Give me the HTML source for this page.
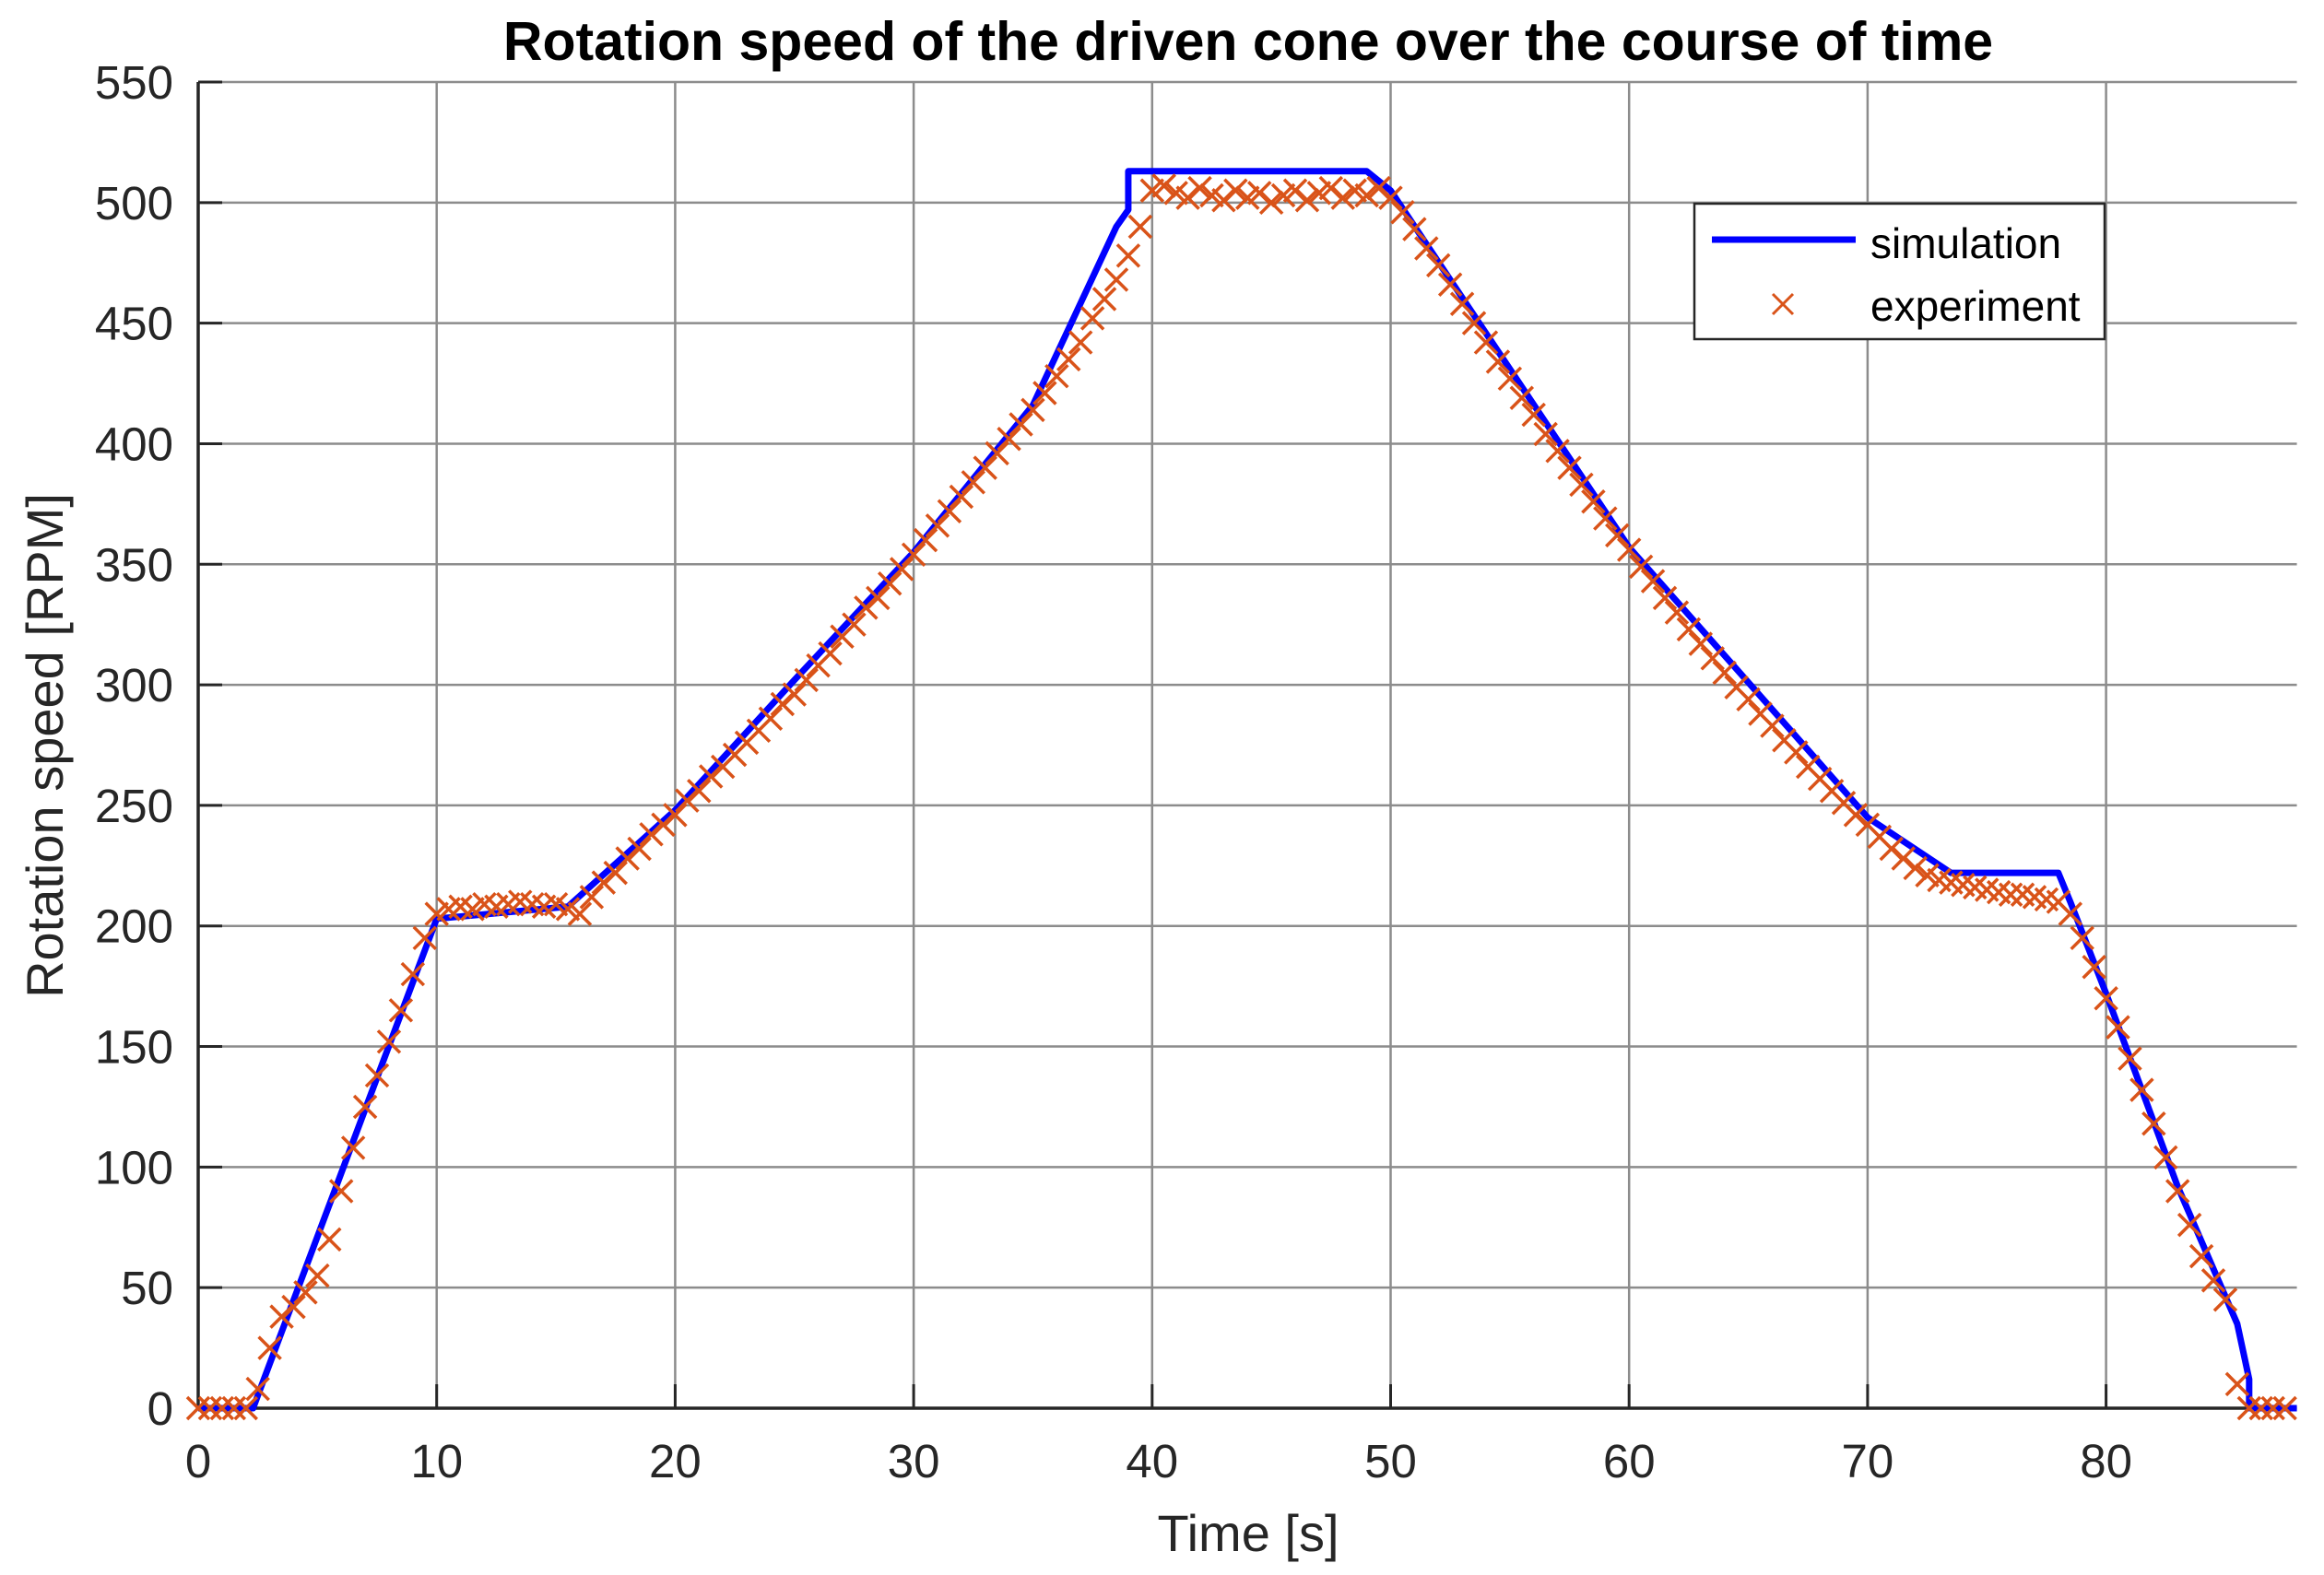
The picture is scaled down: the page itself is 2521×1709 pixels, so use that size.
<!DOCTYPE html>
<html><head><meta charset="utf-8"><style>
html,body{margin:0;padding:0;background:#fff}
svg{display:block;font-family:"Liberation Sans",Arial,sans-serif}
</style></head><body>
<svg id="chart" width="2521" height="1709" viewBox="0 0 2521 1709">
<rect width="2521" height="1709" fill="#fff"/>
<g id="grid"></g>
<g id="ticks"></g>
<g id="series"></g>
<text x="1354" y="65" text-anchor="middle" font-size="59" font-weight="bold" fill="#000">Rotation speed of the driven cone over the course of time</text>
<text x="1354" y="1683" text-anchor="middle" font-size="56" fill="#262626">Time [s]</text>
<text transform="translate(68,809) rotate(-90)" text-anchor="middle" font-size="56" fill="#262626">Rotation speed [RPM]</text>
<g>
<rect x="1838" y="221" width="445" height="147" fill="#fff" stroke="#262626" stroke-width="2.5"/>
<line x1="1857" y1="260" x2="2013" y2="260" stroke="#0000ff" stroke-width="7"/>
<text x="2029" y="280" font-size="46" fill="#000">simulation</text>
<path d="M1923 319 L1945 341 M1945 319 L1923 341" stroke="#D95319" stroke-width="3"/>
<text x="2029" y="348" font-size="46" fill="#000">experiment</text>
</g>
</svg>
<script>
const xTicks=[0,10,20,30,40,50,60,70,80];
const yTicks=[0,50,100,150,200,250,300,350,400,450,500,550];
const simT=[0,2.3,10,15.5,20,25,30,35,38.5,39,39,49,50,60,70,73.5,78,78.5,80,83,85.5,86,86,88];
const simV=[0,0,203,208,248,302,355,416,490,497,513,513,505,357,245,222,222,210,172,92,35,12,0,0];
const expT=[0,0.5,1,1.5,2,2.5,3,3.5,4,4.5,5,5.5,6,6.5,7,7.5,8,8.5,9,9.5,10,10.5,11,11.5,12,12.5,13,13.5,14,14.5,15,15.5,16,16.5,17,17.5,18,18.5,19,19.5,20,20.5,21,21.5,22,22.5,23,23.5,24,24.5,25,25.5,26,26.5,27,27.5,28,28.5,29,29.5,30,30.5,31,31.5,32,32.5,33,33.5,34,34.5,35,35.5,36,36.5,37,37.5,38,38.5,39,39.5,40,40.5,41,41.5,42,42.5,43,43.5,44,44.5,45,45.5,46,46.5,47,47.5,48,48.5,49,49.5,50,50.5,51,51.5,52,52.5,53,53.5,54,54.5,55,55.5,56,56.5,57,57.5,58,58.5,59,59.5,60,60.5,61,61.5,62,62.5,63,63.5,64,64.5,65,65.5,66,66.5,67,67.5,68,68.5,69,69.5,70,70.5,71,71.5,72,72.5,73,73.5,74,74.5,75,75.5,76,76.5,77,77.5,78,78.5,79,79.5,80,80.5,81,81.5,82,82.5,83,83.5,84,84.5,85,85.5,86,86.5,87,87.5];
const expV=[0,0,0,0,0,8,25,38,42,48,55,70,90,108,125,138,152,165,180,195,205,207,208,207,209,208,209,210,209,208,209,207,205,212,218,222,228,232,238,242,246,252,256,262,266,271,276,281,286,292,296,302,308,313,320,325,332,336,342,348,354,360,366,372,378,384,390,396,402,408,414,421,428,435,442,452,460,468,478,490,505,507,504,502,506,503,501,505,502,504,500,503,505,501,504,506,502,505,503,506,502,496,489,481,474,466,458,450,442,434,427,419,412,404,397,390,383,376,369,362,356,349,343,336,330,323,317,311,305,299,294,288,283,277,272,266,261,256,251,246,242,237,232,228,224,221,219,218,217,216,215,214,213,213,212,211,210,205,195,183,170,158,145,132,118,104,90,76,63,53,45,10,0,0,0,0];
const X0=215,XS=25.87,XMAX=88,Y0=1528,YS=(1528-89)/550;
const sx=t=>X0+t*XS, sy=v=>Y0-v*YS;
const NS='http://www.w3.org/2000/svg';
function mk(tag,attrs,parent){const e=document.createElementNS(NS,tag);for(const k in attrs)e.setAttribute(k,attrs[k]);parent.appendChild(e);return e;}
const grid=document.getElementById('grid'),ticks=document.getElementById('ticks'),series=document.getElementById('series');
const xr=sx(XMAX);
xTicks.forEach(t=>{
 const l=mk('line',{x1:sx(t),x2:sx(t),y1:sy(550),y2:Y0,stroke:'#8c8c8c','stroke-width':2.5},grid);
 
 
 const tk=mk('line',{x1:sx(t),x2:sx(t),y1:Y0,y2:Y0-26,stroke:'#262626','stroke-width':3},ticks);
 
 
 const tx=mk('text',{x:sx(t),y:1603,'text-anchor':'middle','font-size':51,fill:'#262626'},ticks);
 tx.textContent=t;
 
 
});
yTicks.forEach(v=>{
 const l=mk('line',{x1:X0,x2:xr,y1:sy(v),y2:sy(v),stroke:'#8c8c8c','stroke-width':2.5},grid);
 
 
 const tk=mk('line',{x1:X0,x2:X0+26,y1:sy(v),y2:sy(v),stroke:'#262626','stroke-width':3},ticks);
 
 
 const tx=mk('text',{x:188,y:sy(v)+18,'text-anchor':'end','font-size':51,fill:'#262626'},ticks);
 tx.textContent=v;
 
 
});
const ax=mk('path',{d:`M${X0} ${sy(550)} L${X0} ${Y0} L${xr} ${Y0}`,fill:'none',stroke:'#262626','stroke-width':3.5},ticks);


const sim=mk('polyline',{points:simT.map((t,i)=>sx(t)+','+sy(simV[i])).join(' '),fill:'none',stroke:'#0000ff','stroke-width':7,'stroke-linejoin':'round'},series);


const g=mk('g',{stroke:'#D95319','stroke-width':3.5},series);


expT.forEach((t,i)=>{
 const x=sx(t),y=sy(expV[i]),r=12;
 const p=mk('path',{d:`M${x-r} ${y-r} L${x+r} ${y+r} M${x+r} ${y-r} L${x-r} ${y+r}`},g);
 
 
});
</script>
</body></html>
